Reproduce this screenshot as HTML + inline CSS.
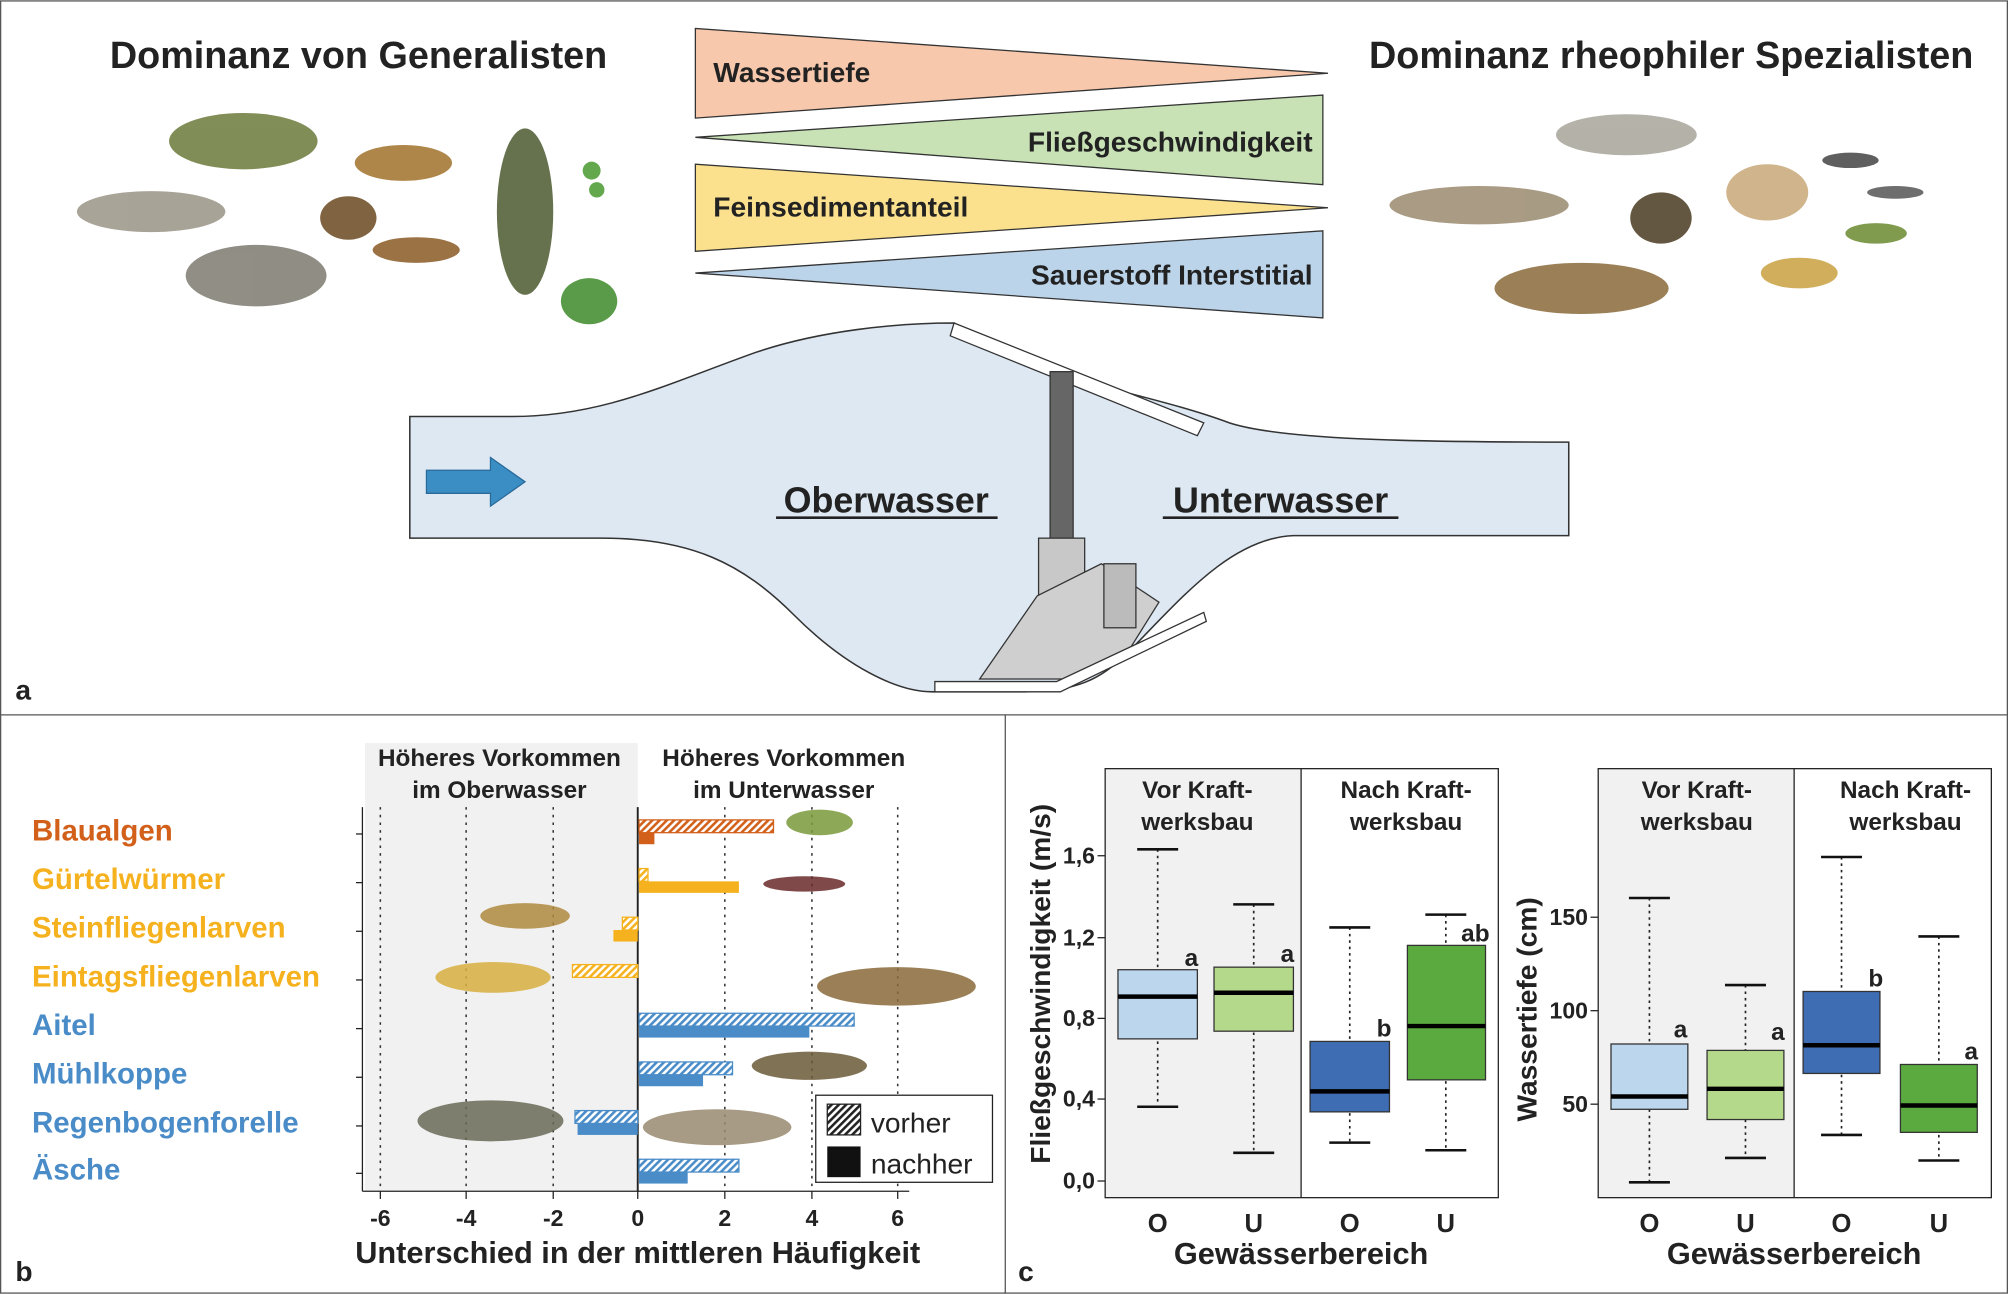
<!DOCTYPE html>
<html><head><meta charset="utf-8"><style>
html,body{margin:0;padding:0;background:#fff;}
svg{display:block;font-family:"Liberation Sans",Arial,sans-serif;}
</style></head><body>
<svg width="2008" height="1294" viewBox="0 0 1568 1010" xmlns="http://www.w3.org/2000/svg">
<defs>
<pattern id="hb" width="4" height="4" patternUnits="userSpaceOnUse" patternTransform="rotate(45)"><rect width="4" height="4" fill="#fff"/><rect width="2" height="4" fill="#4a8cc8"/></pattern>
<pattern id="hy" width="4" height="4" patternUnits="userSpaceOnUse" patternTransform="rotate(45)"><rect width="4" height="4" fill="#fff"/><rect width="2" height="4" fill="#f5b21e"/></pattern>
<pattern id="ho" width="4" height="4" patternUnits="userSpaceOnUse" patternTransform="rotate(45)"><rect width="4" height="4" fill="#fff"/><rect width="2" height="4" fill="#d2601a"/></pattern>
<pattern id="hk" width="4" height="4" patternUnits="userSpaceOnUse" patternTransform="rotate(45)"><rect width="4" height="4" fill="#fff"/><rect width="2" height="4" fill="#222"/></pattern>
</defs>
<rect x="0.5" y="0.5" width="1567" height="1009" fill="#fff" stroke="#555" stroke-width="1"/>
<line x1="0" y1="558" x2="1568" y2="558" stroke="#555"/>
<line x1="785" y1="558" x2="785" y2="1010" stroke="#555"/>

<!-- Panel a -->
<text x="280" y="53" font-size="29.5" font-weight="bold" text-anchor="middle" fill="#222">Dominanz von Generalisten</text>
<text x="1305" y="53" font-size="29.5" font-weight="bold" text-anchor="middle" fill="#222">Dominanz rheophiler Spezialisten</text>
<polygon points="543,22 543,92 1037,57" fill="#f8c8ac" stroke="#333"/>
<polygon points="1033,74 1033,144 543,107" fill="#c8e2b5" stroke="#333"/>
<polygon points="543,128 543,196 1037,162" fill="#fbe18e" stroke="#333"/>
<polygon points="1033,180 1033,248 543,213" fill="#bcd4ea" stroke="#333"/>
<text x="557" y="64" font-size="22" font-weight="bold" fill="#222">Wassertiefe</text>
<text x="1025" y="118" font-size="22" font-weight="bold" fill="#222" text-anchor="end">Fließgeschwindigkeit</text>
<text x="557" y="169" font-size="22" font-weight="bold" fill="#222">Feinsedimentanteil</text>
<text x="1025" y="222" font-size="22" font-weight="bold" fill="#222" text-anchor="end">Sauerstoff Interstitial</text>

<g opacity="0.85">
<ellipse cx="190" cy="110" rx="58" ry="22" fill="#6b7a3a"/>
<ellipse cx="118" cy="165" rx="58" ry="16" fill="#9a9486"/>
<ellipse cx="200" cy="215" rx="55" ry="24" fill="#7d7a70"/>
<ellipse cx="315" cy="127" rx="38" ry="14" fill="#a0722a"/>
<ellipse cx="272" cy="170" rx="22" ry="17" fill="#6b4a20"/>
<ellipse cx="325" cy="195" rx="34" ry="10" fill="#8a5a24"/>
<ellipse cx="410" cy="165" rx="22" ry="65" fill="#4c5a30"/>
<ellipse cx="460" cy="235" rx="22" ry="18" fill="#3e8a2a"/>
<circle cx="462" cy="133" r="7" fill="#4a9a30"/><circle cx="466" cy="148" r="6" fill="#4a9a30"/>
<ellipse cx="1270" cy="105" rx="55" ry="16" fill="#a8a49a"/>
<ellipse cx="1155" cy="160" rx="70" ry="15" fill="#9a8a6e"/>
<ellipse cx="1235" cy="225" rx="68" ry="20" fill="#8a6a3a"/>
<ellipse cx="1297" cy="170" rx="24" ry="20" fill="#4a3a20"/>
<ellipse cx="1380" cy="150" rx="32" ry="22" fill="#c8a878"/>
<ellipse cx="1445" cy="125" rx="22" ry="6" fill="#444"/>
<ellipse cx="1480" cy="150" rx="22" ry="5" fill="#555"/>
<ellipse cx="1465" cy="182" rx="24" ry="8" fill="#6a8a30"/>
<ellipse cx="1405" cy="213" rx="30" ry="12" fill="#c8a040"/>
</g>

<path d="M320,325 L400,325 C470,325 520,300 590,275 C640,258 700,252 745,252 L820,290 C870,305 920,315 960,330 C1000,343 1100,345 1225,345 L1225,418 L1010,418 C960,420 920,470 880,510 C860,530 840,540 800,540 L728,540 C700,540 660,520 620,480 C580,440 540,420 470,420 L320,420 Z" fill="#dde8f3" stroke="#333" stroke-width="1.2"/>
<polygon points="333,367 383,367 383,357 410,376 383,395 383,385 333,385" fill="#3a8ec4" stroke="#2a6a9a"/>
<text x="692" y="400" font-size="28" font-weight="bold" text-anchor="middle" fill="#222">Oberwasser</text>
<line x1="606" y1="404" x2="779" y2="404" stroke="#222" stroke-width="2"/>
<text x="1000" y="400" font-size="28" font-weight="bold" text-anchor="middle" fill="#222">Unterwasser</text>
<line x1="908" y1="404" x2="1092" y2="404" stroke="#222" stroke-width="2"/>
<polygon points="745,252 742,262 935,340 940,330" fill="#fff" stroke="#333"/>
<rect x="820" y="290" width="18" height="130" fill="#666" stroke="#333"/>
<rect x="811" y="420" width="36" height="45" fill="#c8c8c8" stroke="#333"/>
<polygon points="810,465 860,440 905,470 880,510 830,530 765,530" fill="#cfcfcf" stroke="#333"/>
<rect x="862" y="440" width="25" height="50" fill="#bbb" stroke="#333"/>
<polygon points="730,532 825,532 940,478 942,485 828,540 730,540" fill="#fff" stroke="#333"/>
<text x="12" y="546" font-size="22" font-weight="bold" fill="#222">a</text>

<!-- Panel b -->
<rect x="285" y="580" width="213" height="350" fill="#f1f1f1"/>
<text x="390" y="598" font-size="19" font-weight="bold" text-anchor="middle" fill="#222">Höheres Vorkommen</text>
<text x="390" y="623" font-size="19" font-weight="bold" text-anchor="middle" fill="#222">im Oberwasser</text>
<text x="612" y="598" font-size="19" font-weight="bold" text-anchor="middle" fill="#222">Höheres Vorkommen</text>
<text x="612" y="623" font-size="19" font-weight="bold" text-anchor="middle" fill="#222">im Unterwasser</text>
<g stroke="#333" stroke-dasharray="2,4" stroke-width="1.2">
<line x1="297" y1="630" x2="297" y2="930"/><line x1="364" y1="630" x2="364" y2="930"/><line x1="432" y1="630" x2="432" y2="930"/>
<line x1="566" y1="630" x2="566" y2="930"/><line x1="634" y1="630" x2="634" y2="930"/><line x1="701" y1="630" x2="701" y2="930"/>
</g>
<line x1="498" y1="630" x2="498" y2="930" stroke="#222" stroke-width="1.5"/>
<line x1="283" y1="630" x2="283" y2="930" stroke="#222"/>
<line x1="283" y1="930" x2="710" y2="930" stroke="#222"/>
<g stroke="#222">
<line x1="278" y1="651" x2="283" y2="651"/><line x1="278" y1="689" x2="283" y2="689"/><line x1="278" y1="727" x2="283" y2="727"/><line x1="278" y1="765" x2="283" y2="765"/><line x1="278" y1="803" x2="283" y2="803"/><line x1="278" y1="841" x2="283" y2="841"/><line x1="278" y1="879" x2="283" y2="879"/><line x1="278" y1="916" x2="283" y2="916"/>
<line x1="297" y1="930" x2="297" y2="936"/><line x1="364" y1="930" x2="364" y2="936"/><line x1="432" y1="930" x2="432" y2="936"/><line x1="498" y1="930" x2="498" y2="936"/><line x1="566" y1="930" x2="566" y2="936"/><line x1="634" y1="930" x2="634" y2="936"/><line x1="701" y1="930" x2="701" y2="936"/>
</g>
<g font-size="18" font-weight="bold" text-anchor="middle" fill="#222">
<text x="297" y="957">-6</text><text x="364" y="957">-4</text><text x="432" y="957">-2</text><text x="498" y="957">0</text><text x="566" y="957">2</text><text x="634" y="957">4</text><text x="701" y="957">6</text>
</g>
<text x="498" y="986" font-size="24" font-weight="bold" text-anchor="middle" fill="#222">Unterschied in der mittleren Häufigkeit</text>
<g font-size="23" font-weight="bold">
<text x="25" y="656" fill="#d2601a">Blaualgen</text>
<text x="25" y="694" fill="#f5b21e">Gürtelwürmer</text>
<text x="25" y="732" fill="#f5b21e">Steinfliegenlarven</text>
<text x="25" y="770" fill="#f5b21e">Eintagsfliegenlarven</text>
<text x="25" y="808" fill="#4a8cc8">Aitel</text>
<text x="25" y="846" fill="#4a8cc8">Mühlkoppe</text>
<text x="25" y="884" fill="#4a8cc8">Regenbogenforelle</text>
<text x="25" y="921" fill="#4a8cc8">Äsche</text>
</g>
<rect x="499" y="640" width="105" height="10" fill="url(#ho)" stroke="#d2601a"/>
<rect x="499" y="650" width="12" height="9" fill="#d2601a"/>
<rect x="499" y="678" width="7" height="10" fill="url(#hy)" stroke="#f5b21e"/>
<rect x="499" y="688" width="78" height="9" fill="#f5b21e"/>
<rect x="486" y="716" width="12" height="10" fill="url(#hy)" stroke="#f5b21e"/>
<rect x="479" y="726" width="19" height="9" fill="#f5b21e"/>
<rect x="447" y="753" width="51" height="10" fill="url(#hy)" stroke="#f5b21e"/>
<rect x="499" y="791" width="168" height="10" fill="url(#hb)" stroke="#4a8cc8"/>
<rect x="499" y="801" width="133" height="9" fill="#4a8cc8"/>
<rect x="499" y="829" width="73" height="10" fill="url(#hb)" stroke="#4a8cc8"/>
<rect x="499" y="839" width="50" height="9" fill="#4a8cc8"/>
<rect x="449" y="867" width="49" height="10" fill="url(#hb)" stroke="#4a8cc8"/>
<rect x="451" y="877" width="47" height="9" fill="#4a8cc8"/>
<rect x="499" y="905" width="78" height="10" fill="url(#hb)" stroke="#4a8cc8"/>
<rect x="499" y="915" width="38" height="9" fill="#4a8cc8"/>
<g opacity="0.85">
<ellipse cx="640" cy="642" rx="26" ry="10" fill="#7a9a3a"/>
<ellipse cx="628" cy="690" rx="32" ry="6" fill="#6a2a2a"/>
<ellipse cx="410" cy="715" rx="35" ry="10" fill="#b08a40"/>
<ellipse cx="385" cy="763" rx="45" ry="12" fill="#d8b040"/>
<ellipse cx="700" cy="770" rx="62" ry="15" fill="#8a6a3a"/>
<ellipse cx="632" cy="832" rx="45" ry="11" fill="#6a5a38"/>
<ellipse cx="383" cy="875" rx="57" ry="16" fill="#6a6a58"/>
<ellipse cx="560" cy="880" rx="58" ry="14" fill="#9a8a70"/>
</g>
<rect x="637" y="855" width="138" height="68" fill="#fff" stroke="#222"/>
<rect x="646" y="862" width="26" height="24" fill="url(#hk)" stroke="#222"/>
<rect x="646" y="895" width="26" height="24" fill="#111"/>
<text x="680" y="884" font-size="22" fill="#222">vorher</text>
<text x="680" y="916" font-size="22" fill="#222">nachher</text>
<text x="12" y="1000" font-size="22" font-weight="bold" fill="#222">b</text>

<!-- Panel c backgrounds -->
<rect x="863" y="600" width="153" height="335" fill="#f1f1f1"/>
<rect x="1248" y="600" width="153" height="335" fill="#f1f1f1"/>
<rect x="863" y="600" width="307" height="335" fill="none" stroke="#222"/>
<line x1="1016" y1="600" x2="1016" y2="935" stroke="#222"/>
<rect x="1248" y="600" width="307" height="335" fill="none" stroke="#222"/>
<line x1="1401" y1="600" x2="1401" y2="935" stroke="#222"/>
<g font-size="19" font-weight="bold" text-anchor="middle" fill="#222">
<text x="935" y="623">Vor Kraft-</text><text x="935" y="648">werksbau</text>
<text x="1098" y="623">Nach Kraft-</text><text x="1098" y="648">werksbau</text>
<text x="1325" y="623">Vor Kraft-</text><text x="1325" y="648">werksbau</text>
<text x="1488" y="623">Nach Kraft-</text><text x="1488" y="648">werksbau</text>
</g>
<g stroke="#222">
<line x1="857" y1="922" x2="863" y2="922"/><line x1="857" y1="858" x2="863" y2="858"/><line x1="857" y1="795" x2="863" y2="795"/><line x1="857" y1="732" x2="863" y2="732"/><line x1="857" y1="668" x2="863" y2="668"/>
</g>
<g font-size="18" font-weight="bold" text-anchor="end" fill="#222">
<text x="855" y="928">0,0</text><text x="855" y="864">0,4</text><text x="855" y="801">0,8</text><text x="855" y="738">1,2</text><text x="855" y="674">1,6</text>
</g>
<text transform="translate(820,768) rotate(-90)" font-size="22" font-weight="bold" text-anchor="middle" fill="#222">Fließgeschwindigkeit (m/s)</text>
<g stroke="#222" stroke-dasharray="2,3" stroke-width="1.3">
<line x1="904" y1="663" x2="904" y2="864"/><line x1="979" y1="706" x2="979" y2="900"/>
<line x1="1054" y1="724" x2="1054" y2="892"/><line x1="1129" y1="714" x2="1129" y2="898"/>
</g>
<g stroke="#111" stroke-width="2">
<line x1="888" y1="663" x2="920" y2="663"/><line x1="888" y1="864" x2="920" y2="864"/>
<line x1="963" y1="706" x2="995" y2="706"/><line x1="963" y1="900" x2="995" y2="900"/>
<line x1="1038" y1="724" x2="1070" y2="724"/><line x1="1038" y1="892" x2="1070" y2="892"/>
<line x1="1113" y1="714" x2="1145" y2="714"/><line x1="1113" y1="898" x2="1145" y2="898"/>
</g>
<rect x="873" y="757" width="62" height="54" fill="#bcd6ee" stroke="#333"/>
<line x1="873" y1="778" x2="935" y2="778" stroke="#000" stroke-width="3.5"/>
<rect x="948" y="755" width="62" height="50" fill="#b5d98a" stroke="#333"/>
<line x1="948" y1="775" x2="1010" y2="775" stroke="#000" stroke-width="3.5"/>
<rect x="1023" y="813" width="62" height="55" fill="#3f6db4" stroke="#333"/>
<line x1="1023" y1="852" x2="1085" y2="852" stroke="#000" stroke-width="3.5"/>
<rect x="1099" y="738" width="61" height="105" fill="#5aaa3f" stroke="#333"/>
<line x1="1099" y1="801" x2="1160" y2="801" stroke="#000" stroke-width="3.5"/>
<g font-size="19" font-weight="bold" fill="#222">
<text x="925" y="754">a</text><text x="1000" y="751">a</text><text x="1075" y="809">b</text><text x="1141" y="735">ab</text>
<text x="1307" y="810">a</text><text x="1383" y="812">a</text><text x="1459" y="770">b</text><text x="1534" y="827">a</text>
</g>
<g font-size="20" font-weight="bold" text-anchor="middle" fill="#222">
<text x="904" y="962">O</text><text x="979" y="962">U</text><text x="1054" y="962">O</text><text x="1129" y="962">U</text>
<text x="1288" y="962">O</text><text x="1363" y="962">U</text><text x="1438" y="962">O</text><text x="1514" y="962">U</text>
</g>
<text x="1016" y="987" font-size="24" font-weight="bold" text-anchor="middle" fill="#222">Gewässerbereich</text>
<text x="1401" y="987" font-size="24" font-weight="bold" text-anchor="middle" fill="#222">Gewässerbereich</text>

<g stroke="#222">
<line x1="1242" y1="862" x2="1248" y2="862"/><line x1="1242" y1="789" x2="1248" y2="789"/><line x1="1242" y1="716" x2="1248" y2="716"/>
</g>
<g font-size="18" font-weight="bold" text-anchor="end" fill="#222">
<text x="1240" y="868">50</text><text x="1240" y="795">100</text><text x="1240" y="722">150</text>
</g>
<text transform="translate(1200,788) rotate(-90)" font-size="22" font-weight="bold" text-anchor="middle" fill="#222">Wassertiefe (cm)</text>
<g stroke="#222" stroke-dasharray="2,3" stroke-width="1.3">
<line x1="1288" y1="701" x2="1288" y2="923"/><line x1="1363" y1="769" x2="1363" y2="904"/>
<line x1="1438" y1="669" x2="1438" y2="886"/><line x1="1514" y1="731" x2="1514" y2="906"/>
</g>
<g stroke="#111" stroke-width="2">
<line x1="1272" y1="701" x2="1304" y2="701"/><line x1="1272" y1="923" x2="1304" y2="923"/>
<line x1="1347" y1="769" x2="1379" y2="769"/><line x1="1347" y1="904" x2="1379" y2="904"/>
<line x1="1422" y1="669" x2="1454" y2="669"/><line x1="1422" y1="886" x2="1454" y2="886"/>
<line x1="1498" y1="731" x2="1530" y2="731"/><line x1="1498" y1="906" x2="1530" y2="906"/>
</g>
<rect x="1258" y="815" width="60" height="51" fill="#bcd6ee" stroke="#333"/>
<line x1="1258" y1="856" x2="1318" y2="856" stroke="#000" stroke-width="3.5"/>
<rect x="1333" y="820" width="60" height="54" fill="#b5d98a" stroke="#333"/>
<line x1="1333" y1="850" x2="1393" y2="850" stroke="#000" stroke-width="3.5"/>
<rect x="1408" y="774" width="60" height="64" fill="#3f6db4" stroke="#333"/>
<line x1="1408" y1="816" x2="1468" y2="816" stroke="#000" stroke-width="3.5"/>
<rect x="1484" y="831" width="60" height="53" fill="#5aaa3f" stroke="#333"/>
<line x1="1484" y1="863" x2="1544" y2="863" stroke="#000" stroke-width="3.5"/>
<text x="795" y="1000" font-size="22" font-weight="bold" fill="#222">c</text>
</svg>
</body></html>
